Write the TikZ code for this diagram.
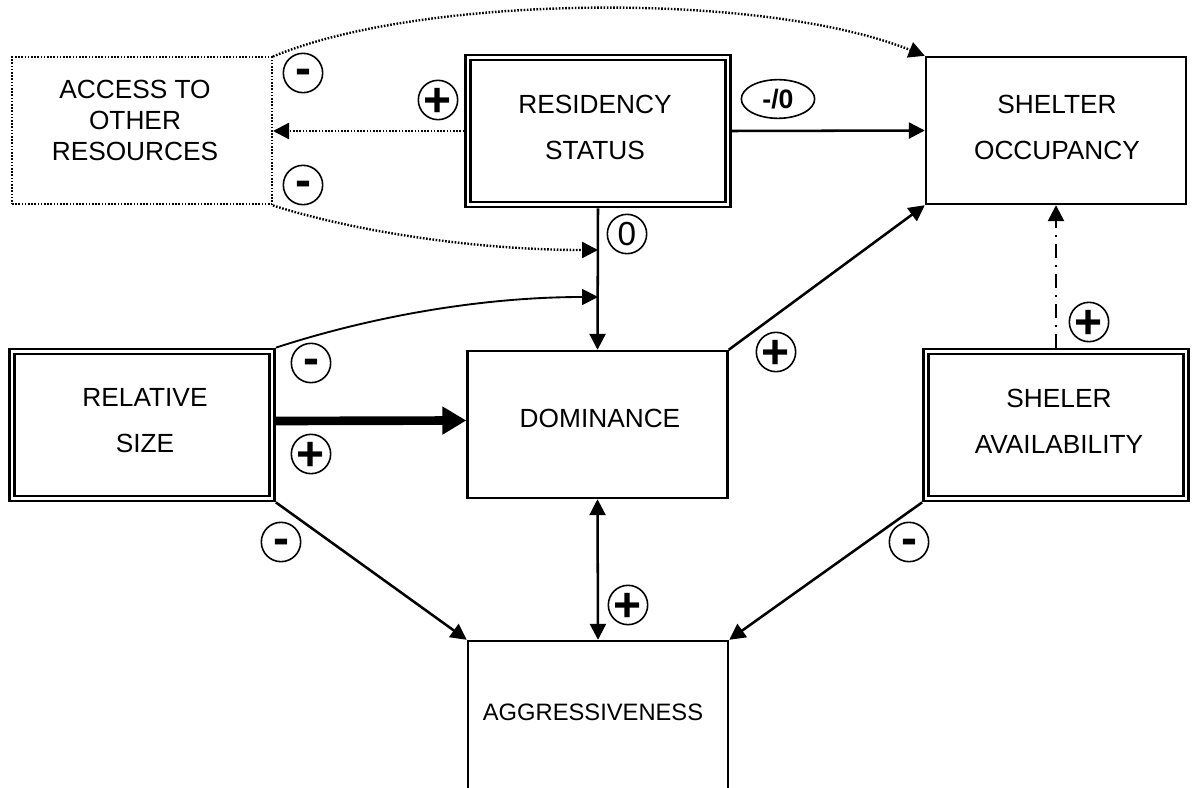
\documentclass[tikz,border=0pt]{standalone}
\usepackage{fontspec}
\setmainfont{Liberation Sans}
\usetikzlibrary{arrows.meta,shapes.geometric}
\tikzset{
  box/.style={draw, line width=1.8pt, minimum width=195pt, minimum height=110.25pt, inner sep=0pt, outer sep=0.9pt},
  dbox/.style={box, line width=2.1pt, double, double distance=1.6pt, outer sep=2.9pt},
  dotbox/.style={box, line width=1.5pt, dash pattern=on 1.2pt off 1.2pt, outer sep=0.75pt},
  boxtext/.style={align=center, inner sep=0pt, font=\fontsize{19.7pt}{34.5pt}\selectfont},
  acctext/.style={align=center, inner sep=0pt, font=\fontsize{19.7pt}{23.25pt}\selectfont},
  aggtext/.style={align=center, inner sep=0pt, font=\fontsize{17.8pt}{20pt}\selectfont},
  sign/.style={circle, draw, line width=1.2pt, minimum size=29.5pt, inner sep=0pt, font=\fontsize{36pt}{36pt}\bfseries\selectfont},
  zero/.style={sign, font=\fontsize{25pt}{25pt}\selectfont},
  oval/.style={ellipse, draw, line width=1.2pt, minimum width=55pt, minimum height=29pt, inner sep=0pt, font=\fontsize{20pt}{20pt}\bfseries\selectfont},
  tip/.style={-{Triangle[length=12pt,width=12pt]}},
  arr/.style={line width=1.9pt, tip},
  dotarr/.style={line width=1.8pt, dash pattern=on 1.2pt off 1.2pt, tip},
  dasharr/.style={line width=1.9pt, dash pattern=on 10pt off 5.5pt on 1.5pt off 5.5pt, tip},
  thinarr/.style={line width=1.4pt, tip},
  bigarr/.style={line width=6.5pt, -{Triangle[length=18pt,width=20pt]}},
  dblarr/.style={line width=1.9pt, {Triangle[length=12pt,width=12pt]}-{Triangle[length=12pt,width=12pt]}}
}
\newcommand{\plussign}{\raisebox{-0.34em}[0pt][0pt]{+}}
\newcommand{\minussign}{\raisebox{-0.25em}[0pt][0pt]{-}}
\newcommand{\zerosign}{\raisebox{-0.36em}[0pt][0pt]{0}}
\begin{document}
\begin{tikzpicture}[x=0.75pt,y=-0.75pt]
\useasboundingbox (0,0) rectangle (1193,788);
\fill[white] (0,0) rectangle (1193,788);

% boxes
\node[dotbox] (acc) at (142,131) {};
\node[dbox]   (res) at (598,131) {};
\node[box]    (occ) at (1056,130.5) {};
\node[dbox]   (rel) at (142,425) {};
\node[box]    (dom) at (597.5,424.5) {};
\node[dbox]   (sav) at (1056,425) {};
\begin{scope}
  \clip (0,0) rectangle (1193,788);
  \node[box, minimum height=114pt] (agg) at (598,717) {};
\end{scope}

% box texts
\node[acctext] (acct) at (135,120) {ACCESS TO\\OTHER\\RESOURCES};
\node[boxtext] (rest) at (595,127) {RESIDENCY\\STATUS};
\node[boxtext] (occt) at (1057,127) {SHELTER\\OCCUPANCY};
\node[boxtext] (relt) at (145,421) {RELATIVE\\SIZE};
\node[boxtext] (domt) at (600,418) {DOMINANCE};
\node[boxtext] (savt) at (1059,421) {SHELER\\AVAILABILITY};
\node[aggtext] (aggt) at (593,712) {AGGRESSIVENESS};

% junction points on the residency -> dominance line
\coordinate (j1) at (598,250);
\coordinate (j2) at (598,297);

% connectors
\draw[dotarr] (res.west) -- (acc.east);
\draw[arr] (res.east) -- (occ.west);
\draw[arr] (res.south) -- (dom.north);
\draw[dotarr] (acc.north east) .. controls (420,-5) and (760,-10) .. (occ.north west);
\draw[dotarr] (acc.south east) .. controls (350,230) and (470,250) .. (j1);
\draw[thinarr] (rel.north east) .. controls (370,317) and (480,297) .. (j2);
\draw[arr] (dom.north east) -- (occ.south west);
\draw[dasharr] (sav.north) -- (occ.south);
\draw[bigarr] ([yshift=3pt]rel.east) -- ([yshift=3pt]dom.west);
\draw[arr] (rel.south east) -- (agg.north west);
\draw[arr] (sav.south west) -- (agg.north east);
\draw[dblarr] (dom.south) -- (agg.north);

% signs
\node[sign] (s1) at (303,73) {\minussign};
\node[sign] (s2) at (303,185) {\minussign};
\node[sign] (s3) at (438,100) {\plussign};
\node[zero] (s4) at (627,234) {\zerosign};
\node[oval] (s5) at (778,99) {-/0};
\node[sign] (s6) at (311,363) {\minussign};
\node[sign] (s7) at (311,454) {\plussign};
\node[sign] (s8) at (281,542) {\minussign};
\node[sign] (s9) at (776,352) {\plussign};
\node[sign] (s10) at (1089,322) {\plussign};
\node[sign] (s11) at (909,542) {\minussign};
\node[sign] (s12) at (628,605) {\plussign};
\end{tikzpicture}
\end{document}
